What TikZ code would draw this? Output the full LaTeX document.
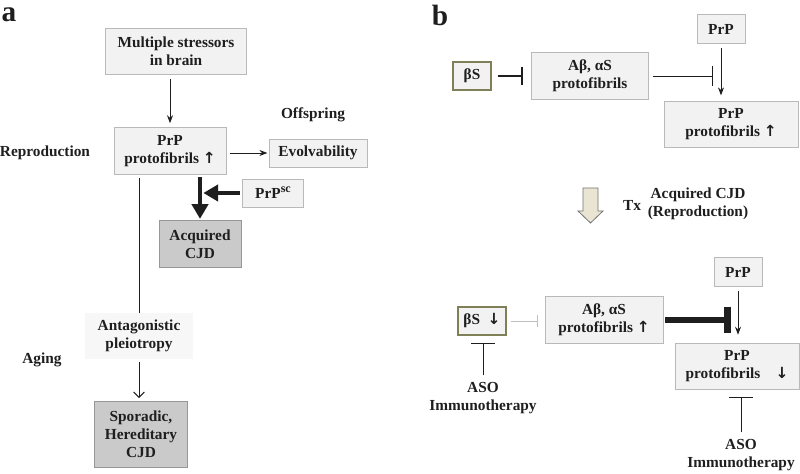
\documentclass[tikz,border=0pt]{standalone}
\usepackage{fontspec}
\setmainfont{Liberation Serif}
\newfontfamily\arrowfont{DejaVu Sans}
\usepackage{tikz}
\usetikzlibrary{arrows.meta,positioning}
\definecolor{inkgrey}{RGB}{30,30,30}
\definecolor{boxgrey}{RGB}{242,242,242}
\definecolor{rimgrey}{RGB}{185,185,185}
\definecolor{cjdgrey}{RGB}{202,202,202}
\definecolor{rimolive}{RGB}{128,128,88}
\definecolor{txbeige}{RGB}{234,229,210}
\colorlet{figink}{inkgrey}
\newcommand{\up}{{\arrowfont\bfseries ↑}}
\newcommand{\down}{{\arrowfont\bfseries ↓}}

\begin{document}
\begin{tikzpicture}[
  x=0.75pt, y=-0.75pt,
  font=\fontsize{11.5}{13.5}\selectfont\bfseries,
  text=figink,
  box/.style={draw=rimgrey, fill=boxgrey, align=center, inner sep=0pt},
  cjd/.style={box, draw=cjdgrey!75!black, fill=cjdgrey},
  sbox/.style={box, draw=rimolive, line width=0.8pt},
  sz/.style 2 args={minimum width=#1*0.75pt, minimum height=#2*0.75pt},
  lab/.style={align=center, inner sep=0pt},
  panel/.style={font=\fontsize{22}{22}\selectfont\bfseries, inner sep=0pt},
  arr/.style={-{Stealth[length=6pt,width=4.5pt]}, line width=0.7pt, figink},
  fat/.style={-{Triangle[length=11pt,width=12pt]}, line width=3.5pt, figink},
  inh/.style={-{Bar[width=#1]}, figink},
]
  \useasboundingbox (0,0) rectangle (800,474);

  % panel a
  \node[panel] (laba) at (9,15) {a};
  \node[box, sz={141}{46}] (stress) at (176,51) {Multiple stressors\\in brain};
  \node[box, sz={112}{47}] (prpa) at (170,151) {PrP\\protofibrils \up};
  \node[box, sz={98}{28}] (evol) at (318,153) {Evolvability};
  \node[box, sz={61}{28}] (prpsc) at (273,193) {PrP\raisebox{0.4em}{\fontsize{9}{9}\selectfont sc}};
  \node[cjd, sz={82}{47}] (acq) at (200,244) {Acquired\\CJD};
  \node[box, draw=none, fill=boxgrey!60!white, sz={108}{46}] (anta) at (139,336) {Antagonistic\\pleiotropy};
  \node[cjd, sz={93}{66}] (spor) at (141,434) {Sporadic,\\Hereditary\\CJD};
  \node[lab] (repro) at (45,153) {Reproduction};
  \node[lab] (offs) at (313,115) {Offspring};
  \node[lab] (aging) at (42,360) {Aging};

  \draw[arr, shorten <=3.5pt, shorten >=3pt] (stress.south -| prpa.north) -- (prpa.north);
  \draw[arr, shorten <=3pt, shorten >=1pt] (prpa.east |- evol.west) -- (evol.west);
  \draw[fat, shorten <=2pt, shorten >=1pt] (prpa.south -| acq.north) -- (acq.north);
  \draw[fat, shorten <=1.5pt, shorten >=2.5pt] (prpsc.west) -- (prpsc.west -| acq.north);
  \draw[line width=0.7pt, figink, shorten <=2.5pt] (prpa.south -| anta.north) -- (anta.north);
  \draw[-{Straight Barb[length=4pt,width=8pt]}, line width=0.7pt, figink, shorten <=2pt, shorten >=2pt]
    (anta.south) -- (anta.south |- spor.north);

  % panel b, before treatment
  \node[panel] (labb) at (440,15) {b};
  \node[sbox, sz={38}{28}] (bs1) at (472,76) {βS};
  \node[box, sz={117}{47}] (ab1) at (590,76) {Aβ, αS\\protofibrils};
  \node[box, sz={48}{29}] (prp1) at (721,29) {PrP};
  \node[box, sz={134}{46}] (pf1) at (731,124) {PrP\\protofibrils \up};

  \draw[inh=13.5pt, line width=1.6pt, shorten <=4.5pt, shorten >=6pt] (bs1.east) -- (bs1.east -| ab1.west);
  \draw[inh=15pt, line width=0.7pt, shorten <=3pt, shorten >=6pt] (ab1.east) -- (ab1.east -| prp1.south);
  \draw[arr, shorten <=3pt, shorten >=4pt] (prp1.south) -- (prp1.south |- pf1.north);

  % treatment
  \draw[draw=black!55, fill=txbeige, line width=0.6pt]
    (583,188) -- (598,188) -- (598,211) -- (603,211) -- (590.5,223) -- (578,211) -- (583,211) -- cycle;
  \node[lab] (tx) at (632,205) {Tx};
  \node[lab] (acqrep) at (698,204) {Acquired CJD\\(Reproduction)};

  % panel b, after treatment
  \node[sbox, sz={48}{28}] (bs2) at (482,321) {βS\enspace\down};
  \node[box, sz={118}{47}] (ab2) at (604,320) {Aβ, αS\\protofibrils \up};
  \node[box, sz={48}{29}] (prp2) at (738,272) {PrP};
  \node[box, sz={124}{46}] (pf2) at (737,366) {PrP\\protofibrils\quad\down};
  \node[lab] (aso1) at (483,398) {ASO\\Immunotherapy};
  \node[lab] (aso2) at (741,455) {ASO\\Immunotherapy};

  \draw[inh=9pt, line width=0.5pt, draw=black!25, shorten <=3pt, shorten >=5pt] (bs2.east) -- (bs2.east -| ab2.west);
  \draw[inh=20pt, line width=5pt, shorten <=1.5pt, shorten >=5.5pt] (ab2.east) -- (ab2.east -| prp2.south);
  \draw[arr, shorten <=3pt, shorten >=6pt] (prp2.south) -- (prp2.south |- pf2.north);
  \foreach \src/\dst in {aso1/bs2, aso2/pf2} {
    \draw[inh=18pt, line width=0.7pt, shorten <=5pt, shorten >=5.5pt] (\src.north) -- (\src.north |- \dst.south);
  }
\end{tikzpicture}
\end{document}
